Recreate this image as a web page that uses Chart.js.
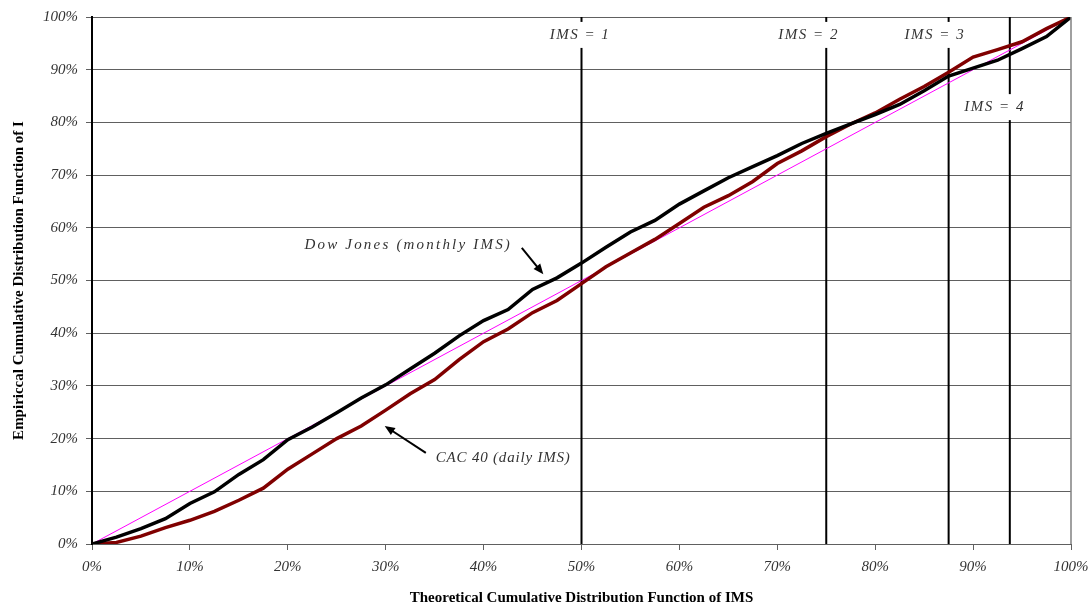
<!DOCTYPE html>
<html>
<head>
<meta charset="utf-8">
<script src="https://cdn.jsdelivr.net/npm/chart.js@4"></script>
<style>
  html, body { margin: 0; padding: 0; background: #fff; }
  #wrap { width: 1092px; height: 607px; }
</style>
</head>
<body>
<div id="wrap"><canvas id="cdfChart" width="1092" height="607"></canvas></div>
<script>
// theoretical CDF of IMS (x, in %)
const xPct = [0, 2.5, 5, 7.5, 10, 12.5, 15, 17.5, 20, 22.5, 25, 27.5, 30, 32.5, 35, 37.5, 40, 42.5, 45, 47.5,
              50, 52.5, 55, 57.5, 60, 62.5, 65, 67.5, 70, 72.5, 75, 77.5, 80, 82.5, 85, 87.5, 90, 92.5, 95, 97.5, 100];
// empirical CDF, Dow Jones (monthly IMS)
const dowJones = [0, 1.3, 2.9, 4.8, 7.7, 9.9, 13.2, 16, 19.8, 22.2, 24.9, 27.7, 30.2, 33.2, 36.2, 39.5, 42.4, 44.5, 48.3, 50.5,
                  53.3, 56.3, 59.2, 61.4, 64.5, 67, 69.5, 71.6, 73.7, 76, 77.9, 79.7, 81.5, 83.4, 86, 88.8, 90.3, 91.8, 94, 96.3, 100];
// empirical CDF, CAC 40 (daily IMS)
const cac40 = [0, 0.3, 1.5, 3.1, 4.5, 6.2, 8.3, 10.6, 14.2, 17.1, 20, 22.4, 25.4, 28.5, 31.2, 35, 38.4, 40.8, 43.9, 46.2,
               49.4, 52.6, 55.2, 57.8, 60.8, 63.9, 66.1, 68.8, 72.2, 74.6, 77.3, 79.7, 81.8, 84.4, 86.8, 89.5, 92.4, 93.8, 95.3, 97.8, 100];
// uniform reference line
const diagX = [0, 100];
const diagY = [0, 100];
// IMS = 1..4 thresholds on the x axis
const imsLevels = [50, 75, 87.5, 93.75];
const imsLabels = ['IMS = 1', 'IMS = 2', 'IMS = 3', 'IMS = 4'];
const imsLabelPos = [[49.85, 96.6], [73.2, 96.6], [86.1, 96.6], [92.2, 82.9]];

const pts = (xs, ys) => xs.map((x, i) => ({ x: x, y: ys[i] }));

const imsSets = imsLevels.map(v => ({
    data: [{ x: v, y: 0 }, { x: v, y: 100 }],
    borderColor: '#000',
    borderWidth: 2,
    pointRadius: 0,
    order: 5
}));

const serif = '"Liberation Serif", "DejaVu Serif", serif';

// labels, arrows and the right border
const notes = {
    id: 'notes',
    afterDatasetsDraw(chart) {
        const c = chart.ctx, xs = chart.scales.x, ys = chart.scales.y, a = chart.chartArea;
        c.save();
        c.strokeStyle = '#808080';
        c.lineWidth = 1.5;
        c.beginPath();
        c.moveTo(a.right, a.top);
        c.lineTo(a.right, a.bottom);
        c.stroke();

        c.font = 'italic 15px ' + serif;
        c.textAlign = 'center';
        c.textBaseline = 'middle';
        c.letterSpacing = '1.5px';
        imsLabels.forEach((t, i) => {
            const px = xs.getPixelForValue(imsLabelPos[i][0]);
            const py = ys.getPixelForValue(imsLabelPos[i][1]);
            const w = c.measureText(t).width + 8;
            c.fillStyle = '#fff';
            c.fillRect(px - w / 2, py - 13, w, 26);
            c.fillStyle = '#333';
            c.fillText(t, px, py);
        });

        c.letterSpacing = '2.2px';
        c.fillText('Dow Jones (monthly IMS)', xs.getPixelForValue(32.3), ys.getPixelForValue(56.7));
        c.letterSpacing = '0.8px';
        c.fillText('CAC 40 (daily IMS)', xs.getPixelForValue(42), ys.getPixelForValue(16.3));

        const arrow = (x0, y0, x1, y1) => {
            const p0 = [xs.getPixelForValue(x0), ys.getPixelForValue(y0)];
            const p1 = [xs.getPixelForValue(x1), ys.getPixelForValue(y1)];
            const ang = Math.atan2(p1[1] - p0[1], p1[0] - p0[0]);
            c.strokeStyle = '#000';
            c.fillStyle = '#000';
            c.lineWidth = 2;
            c.beginPath();
            c.moveTo(p0[0], p0[1]);
            c.lineTo(p1[0] - 6 * Math.cos(ang), p1[1] - 6 * Math.sin(ang));
            c.stroke();
            c.beginPath();
            c.moveTo(p1[0], p1[1]);
            c.lineTo(p1[0] - 11 * Math.cos(ang - 0.4), p1[1] - 11 * Math.sin(ang - 0.4));
            c.lineTo(p1[0] - 11 * Math.cos(ang + 0.4), p1[1] - 11 * Math.sin(ang + 0.4));
            c.closePath();
            c.fill();
        };
        arrow(43.9, 56.2, 46.1, 51.2);
        arrow(34.1, 17.3, 29.9, 22.4);
        c.restore();
    }
};

new Chart(document.getElementById('cdfChart'), {
    type: 'line',
    data: {
        datasets: [
            {
                label: 'Dow Jones (monthly IMS)',
                data: pts(xPct, dowJones),
                borderColor: '#000',
                borderWidth: 3.5,
                pointRadius: 0,
                borderCapStyle: 'round',
                order: 1
            },
            {
                label: 'CAC 40 (daily IMS)',
                data: pts(xPct, cac40),
                borderColor: '#800000',
                borderWidth: 3.5,
                pointRadius: 0,
                borderCapStyle: 'round',
                order: 2
            },
            {
                label: 'uniform',
                data: pts(diagX, diagY),
                borderColor: '#ff00ff',
                borderWidth: 1,
                pointRadius: 0,
                order: 3
            },
            ...imsSets
        ]
    },
    options: {
        responsive: false,
        animation: false,
        events: [],
        layout: { padding: { top: 17, right: 21, left: 0, bottom: 0 } },
        plugins: { legend: { display: false }, tooltip: { enabled: false } },
        scales: {
            x: {
                type: 'linear',
                min: 0, max: 100,
                ticks: {
                    stepSize: 10,
                    padding: 8,
                    color: '#333',
                    font: { family: serif, size: 15, style: 'italic' },
                    callback: v => v + '%'
                },
                grid: { drawOnChartArea: false, drawTicks: true, tickLength: 6, tickColor: '#606060' },
                border: { color: '#606060', width: 1 },
                title: {
                    display: true,
                    text: 'Theoretical Cumulative Distribution Function of IMS',
                    color: '#000',
                    font: { family: serif, size: 15, weight: 'bold' },
                    padding: { top: 0, bottom: 0 }
                },
                afterFit: s => { s.height = 63; s.paddingRight = 0; s.paddingLeft = 0; }
            },
            y: {
                min: 0, max: 100,
                ticks: {
                    stepSize: 10,
                    padding: 8,
                    color: '#333',
                    font: { family: serif, size: 15, style: 'italic' },
                    callback: v => v + '%'
                },
                grid: { color: '#606060', lineWidth: 1, tickLength: 6, tickColor: '#606060' },
                border: { color: '#000', width: 2 },
                title: {
                    display: true,
                    text: 'Empiriccal Cumulative Distribution Function of I',
                    color: '#000',
                    font: { family: serif, size: 15, weight: 'bold' },
                    padding: { top: 10, bottom: 0 }
                },
                afterFit: s => { s.width = 92; }
            }
        }
    },
    plugins: [notes]
});
</script>
</body>
</html>
